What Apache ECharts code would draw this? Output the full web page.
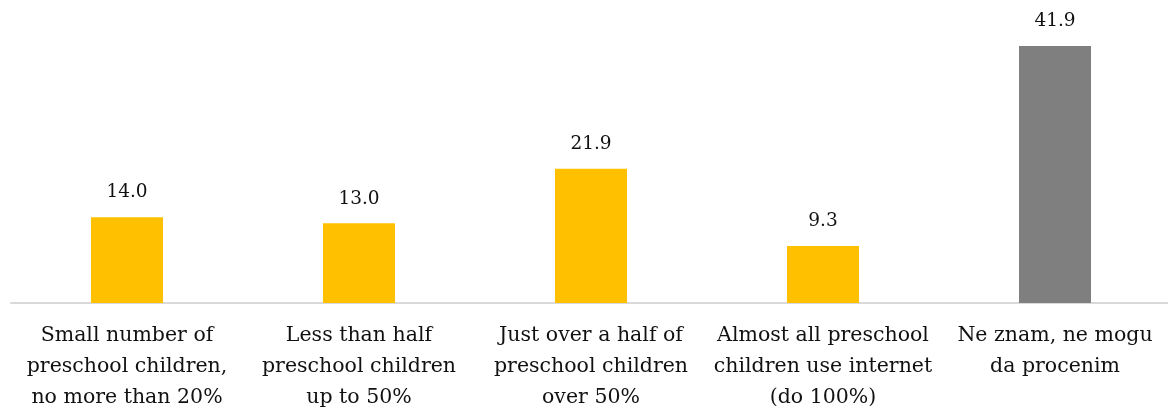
<!DOCTYPE html>
<html>
<head>
<meta charset="utf-8">
<script src="https://cdn.jsdelivr.net/npm/echarts@6/dist/echarts.min.js"></script>
<style>
  html, body { margin: 0; padding: 0; background: #fff; }
  #chart { width: 1168px; height: 416px; }
</style>
</head>
<body>
<div id="chart"></div>
<script>
const categories = [
  'Small number of\npreschool children,\nno more than 20%',
  'Less than half\npreschool children\nup to 50%',
  'Just over a half of\npreschool children\nover 50%',
  'Almost all preschool\nchildren use internet\n(do 100%)',
  'Ne znam, ne mogu\nda procenim'
];
const values = [14.0, 13.0, 21.9, 9.3, 41.9];
const barColors = ['#FFC000', '#FFC000', '#FFC000', '#FFC000', '#7F7F7F'];

const serif = '"Palatino Linotype", "Book Antiqua", Palatino, "DejaVu Serif", serif';

const chart = echarts.init(document.getElementById('chart'));
chart.setOption({
  animation: false,
  grid: { left: 11, width: 1160, top: 27, height: 276, outerBoundsMode: 'none' },
  xAxis: {
    type: 'category',
    data: categories,
    axisLine: { lineStyle: { color: '#D9D9D9', width: 2 } },
    axisTick: { show: false },
    axisLabel: {
      interval: 0,
      margin: 17,
      color: '#111',
      fontFamily: serif,
      fontSize: 20.5,
      lineHeight: 31
    }
  },
  yAxis: {
    type: 'value',
    min: 0,
    max: 45,
    show: false
  },
  series: [{
    type: 'bar',
    barWidth: 72,
    data: values.map((v, i) => ({ value: v, itemStyle: { color: barColors[i] } })),
    label: {
      show: true,
      position: 'top',
      distance: 15,
      color: '#111',
      fontFamily: serif,
      fontSize: 18.5,
      formatter: p => p.value.toFixed(1)
    }
  }]
});
</script>
</body>
</html>
